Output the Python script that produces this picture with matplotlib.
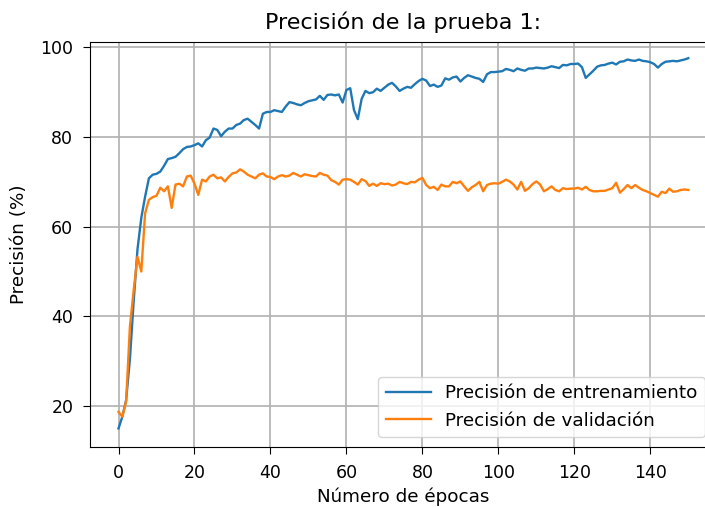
import numpy as np
import matplotlib
matplotlib.use('Agg')
import matplotlib.pyplot as plt

# precisión por época (0..150)
epocas = list(range(151))

prec_entrenamiento = [
    15.0, 17.6, 21.3, 30.5, 43.5, 55.0, 62.0, 66.7, 70.8, 71.6,
    71.8, 72.3, 73.6, 75.1, 75.3, 75.6, 76.4, 77.3, 77.8, 77.9,
    78.2, 78.6, 77.9, 79.3, 79.9, 81.9, 81.6, 80.2, 81.2, 81.9,
    81.9, 82.7, 83.0, 83.8, 84.1, 83.4, 82.7, 81.9, 85.2, 85.6,
    85.6, 86.0, 85.8, 85.6, 86.8, 87.8, 87.6, 87.3, 87.1, 87.6,
    88.0, 88.2, 88.4, 89.2, 88.3, 89.4, 89.5, 89.3, 89.5, 87.7,
    90.5, 90.9, 86.0, 84.0, 88.5, 90.3, 89.8, 90.0, 90.8, 90.3,
    91.0, 91.7, 92.1, 91.3, 90.3, 90.8, 91.2, 91.0, 91.8, 92.5,
    93.0, 92.6, 91.4, 91.7, 91.2, 91.5, 93.1, 92.8, 93.3, 93.5,
    92.4, 93.2, 93.8, 93.5, 93.2, 93.0, 92.3, 94.0, 94.5, 94.5,
    94.6, 94.7, 95.2, 95.0, 94.7, 95.3, 95.0, 94.8, 95.3, 95.3,
    95.5, 95.4, 95.3, 95.5, 95.8, 95.6, 95.4, 96.1, 96.0, 96.3,
    96.3, 96.4, 95.6, 93.2, 94.0, 94.8, 95.7, 96.0, 96.1, 96.4,
    96.6, 96.2, 96.8, 96.9, 97.3, 97.1, 97.0, 97.3, 97.0, 96.9,
    96.7, 96.3, 95.5, 96.3, 96.8, 96.9, 97.0, 96.9, 97.1, 97.3,
    97.6,
]

prec_validacion = [
    18.7, 17.6, 21.0, 37.7, 45.9, 53.3, 50.0, 63.0, 66.0, 66.6,
    66.9, 68.7, 67.9, 69.0, 64.2, 69.4, 69.6, 69.0, 71.2, 71.4,
    69.6, 67.1, 70.5, 70.1, 71.2, 71.6, 70.8, 71.0, 70.1, 71.1,
    71.9, 72.1, 72.8, 72.3, 71.6, 71.2, 70.8, 71.6, 71.9, 71.2,
    71.1, 70.6, 71.2, 71.5, 71.2, 71.4, 72.0, 71.6, 71.2, 71.7,
    71.5, 71.3, 71.2, 72.0, 71.6, 71.4, 70.4, 70.0, 69.4, 70.5,
    70.6, 70.5, 70.0, 69.4, 70.6, 70.2, 69.1, 69.6, 69.1, 69.7,
    69.5, 69.6, 69.2, 69.4, 70.0, 69.7, 69.5, 70.0, 69.9, 70.5,
    70.9, 69.3, 68.6, 68.9, 68.2, 69.4, 69.0, 69.0, 70.0, 69.7,
    70.1, 69.0, 68.0, 68.8, 69.3, 70.0, 67.9, 69.3, 69.6, 69.7,
    69.6, 70.0, 70.5, 70.1, 69.4, 68.3, 70.0, 68.0, 68.6, 69.5,
    70.1, 69.4, 67.9, 68.4, 69.0, 68.2, 67.9, 68.6, 68.4, 68.5,
    68.5, 68.7, 68.3, 68.9, 68.2, 67.9, 67.9, 68.0, 68.0, 68.3,
    68.6, 69.8, 67.6, 68.4, 69.3, 68.6, 69.3, 68.7, 68.2, 67.9,
    67.5, 67.1, 66.7, 67.8, 67.5, 68.5, 67.8, 67.9, 68.2, 68.3,
    68.2,
]

fig = plt.figure(figsize=(7.05, 5.08), dpi=100)
# el eje se sale un poco por la derecha, igual que la salida original recortada
ax = fig.add_axes([0.1277, 0.1201, 0.889, 0.798])

ax.plot(epocas, prec_entrenamiento, color='#1f77b4', linewidth=1.7, label='Precisión de entrenamiento')
ax.plot(epocas, prec_validacion, color='#ff7f0e', linewidth=1.7, label='Precisión de validación')

ax.set_title('Precisión de la prueba 1:', fontsize=16, pad=9)
ax.set_xlabel('Número de épocas', fontsize=13.2, labelpad=4)
ax.set_ylabel('Precisión (%)', fontsize=13.2, labelpad=9)
ax.set_xticks(np.arange(0, 141, 20))
ax.set_yticks(np.arange(20, 101, 20))
ax.tick_params(labelsize=12.5, length=5, pad=7)
ax.set_xlim(-7.5, 157.5)
ax.set_ylim(10.85, 101.3)
ax.grid(True, color='#b0b0b0', linewidth=1.2)
ax.legend(loc='lower right', fontsize=13.2, handlelength=2.45, borderaxespad=0,
          bbox_to_anchor=(1.0, 71 / 508), bbox_transform=fig.transFigure)

plt.savefig('out.png', dpi=100)
plt.close()
